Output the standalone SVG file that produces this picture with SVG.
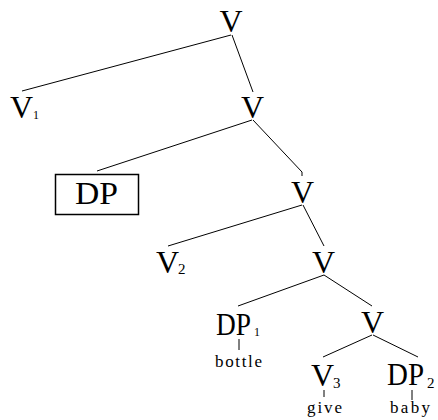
<svg xmlns="http://www.w3.org/2000/svg" width="438" height="420" viewBox="0 0 438 420">
<style>
text{font-family:"Liberation Serif","Times New Roman",serif;fill:#000}
.lab{font-size:32px}
.sub{font-size:15px}
.sm{font-size:12px}
.w{font-size:17px}
line,polyline{stroke:#000;stroke-width:1;fill:none}
.box{fill:none;stroke:#000;stroke-width:1.5}
</style>
<g id="connectors">
<line x1="231" y1="35" x2="22" y2="91"/>
<line x1="232" y1="35" x2="253" y2="92"/>
<line x1="252" y1="120" x2="97" y2="171"/>
<polyline points="253,120 302,172 302,176"/>
<line x1="302" y1="205" x2="168" y2="246"/>
<line x1="303" y1="205" x2="324" y2="246"/>
<line x1="324" y1="275" x2="238" y2="306"/>
<line x1="324" y1="275" x2="372" y2="306"/>
<line x1="372" y1="335" x2="323" y2="357"/>
<line x1="373" y1="335" x2="418" y2="357"/>
<line x1="239" y1="339" x2="239" y2="350"/>
<line x1="324" y1="390" x2="324" y2="397"/>
<line x1="412" y1="390" x2="412" y2="400"/>
</g>
<g id="V_top"><text class="lab" x="231" y="32" text-anchor="middle">V</text></g>
<g id="V1"><text class="lab" x="10" y="118">V</text><text class="sm" x="33" y="119">1</text></g>
<g id="V_b"><text class="lab" x="252.5" y="118" text-anchor="middle">V</text></g>
<g id="DP_box"><rect class="box" x="55.5" y="174.5" width="83" height="40"/><text class="lab" x="75" y="204" textLength="43" lengthAdjust="spacingAndGlyphs">DP</text></g>
<g id="V_c"><text class="lab" x="302.5" y="203" text-anchor="middle">V</text></g>
<g id="V2"><text class="lab" x="156" y="273">V</text><text class="sub" x="178" y="274">2</text></g>
<g id="V_d"><text class="lab" x="323.5" y="273" text-anchor="middle">V</text></g>
<g id="DP1"><text class="lab" x="216" y="335" textLength="35" lengthAdjust="spacingAndGlyphs">DP</text><text class="sm" x="254" y="336">1</text>
<text class="w" x="215" y="367" textLength="47" lengthAdjust="spacing">bottle</text></g>
<g id="V_e"><text class="lab" x="372.5" y="333" text-anchor="middle">V</text></g>
<g id="V3"><text class="lab" x="311" y="386">V</text><text class="sub" x="333" y="388">3</text>
<text class="w" x="307" y="413" textLength="35" lengthAdjust="spacing">give</text></g>
<g id="DP2"><text class="lab" x="387" y="385" textLength="37" lengthAdjust="spacingAndGlyphs">DP</text><text class="sub" x="427" y="388">2</text>
<text class="w" x="390" y="413" textLength="40" lengthAdjust="spacing">baby</text></g>
</svg>
